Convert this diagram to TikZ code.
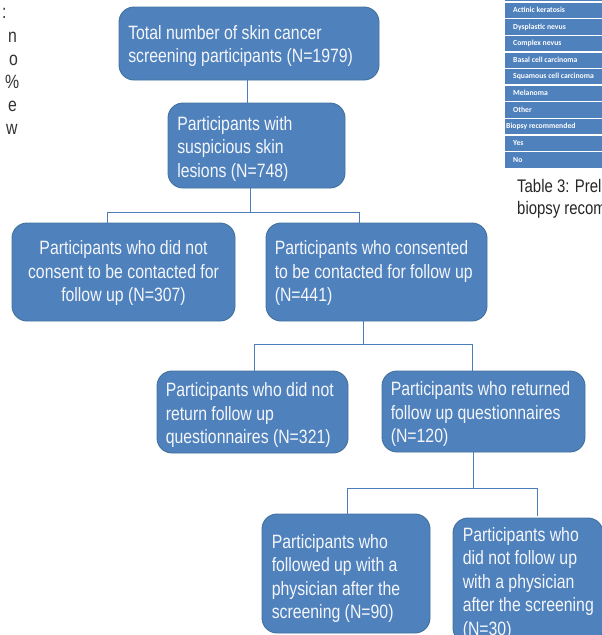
\documentclass[tikz,border=0pt]{standalone}
\usepackage{fontspec}
\setmainfont{Liberation Sans}
\newfontfamily\narrowfont[FakeStretch=0.82]{Liberation Sans}
\newfontfamily\tablefont{Carlito}
\definecolor{boxfill}{HTML}{4F81BD}
\definecolor{boxline}{HTML}{41719C}
\definecolor{connblue}{HTML}{4A7EBB}
\definecolor{textwhite}{HTML}{F4F6FA}
\definecolor{fraggray}{HTML}{333333}
\tikzset{
  box/.style={draw=boxline, line width=0.9pt, fill=boxfill, rounded corners=15pt, inner sep=0pt},
  txt/.style={inner sep=0pt, text=textwhite, font=\narrowfont\fontsize{19.3}{23.5}\selectfont, align=left, yshift=-2.5pt},
  conn/.style={draw=connblue, line width=1pt},
  frag/.style={inner sep=0pt, text=fraggray, font=\narrowfont\fontsize{19.3}{23.5}\selectfont, anchor=base west},
  captxt/.style={inner sep=0pt, text=black!85, font=\narrowfont\fontsize{18.2}{22}\selectfont, anchor=base west},
  tabtxt/.style={inner sep=0pt, text=white, font=\tablefont\bfseries\fontsize{7.7}{9}\selectfont, anchor=west},
  sep/.style={draw=white, line width=1.4pt}
}
\begin{document}
\begin{tikzpicture}[x=1pt,y=-1pt]
\useasboundingbox (0,0) rectangle (602,635);
\begin{scope}
\clip (0,0) rectangle (602,635);

% left clipped text fragments
\node[frag] (f1) at (2,18) {:};
\node[frag] (f2) at (8,42) {n};
\node[frag] (f3) at (9,65) {o};
\node[frag] (f4) at (5,88) {\%};
\node[frag] (f5) at (8,111) {e};
\node[frag] (f6) at (6,134) {w};

% table at top right
\fill[boxfill] (505,-5) rectangle (615,168);
\foreach \k in {0,...,9} {
  \draw[sep] (505,{2+16.6*\k}) -- (615,{2+16.6*\k});
}
\node[tabtxt] (r1) at (513,10.3) {Actinic keratosis};
\node[tabtxt] (r2) at (513,26.9) {Dysplastic nevus};
\node[tabtxt] (r3) at (513,43.5) {Complex nevus};
\node[tabtxt] (r4) at (513,60.1) {Basal cell carcinoma};
\node[tabtxt] (r5) at (513,76.7) {Squamous cell carcinoma};
\node[tabtxt] (r6) at (513,93.3) {Melanoma};
\node[tabtxt] (r7) at (513,109.9) {Other};
\node[tabtxt] (r8) at (506,126.5) {Biopsy recommended};
\node[tabtxt] (r9) at (513,143.1) {Yes};
\node[tabtxt] (r10) at (513,159.7) {No};
\node[captxt] (cap1) at (517,192) {Table 3: Prel};
\node[captxt] (cap2) at (517,214) {biopsy recom};

% boxes
\node[box, minimum width=260, minimum height=73] (b1) at (249,43.5) {};
\node[box, minimum width=177, minimum height=85] (b2) at (256.5,145.5) {};
\node[box, minimum width=223, minimum height=98] (b3) at (123.5,272) {};
\node[box, minimum width=221, minimum height=98] (b4) at (376.5,272) {};
\node[box, minimum width=191, minimum height=82] (b5) at (252.5,412) {};
\node[box, minimum width=203, minimum height=81] (b6) at (483.5,411.5) {};
\node[box, minimum width=168, minimum height=119] (b7) at (346,573.5) {};
\node[box, minimum width=150, minimum height=125] (b8) at (528,580.5) {};

% texts
\node[txt, anchor=west] (t1) at ([xshift=9.5pt]b1.west) {Total number of skin cancer\\screening participants (N=1979)};
\node[txt, anchor=west] (t2) at ([xshift=9.5pt,yshift=-1pt]b2.west) {Participants with\\suspicious skin\\lesions (N=748)};
\node[txt, align=center] (t3) at ([yshift=1pt]b3.center) {Participants who did not\\consent to be contacted for\\follow up (N=307)};
\node[txt, anchor=west] (t4) at ([xshift=9pt,yshift=1pt]b4.west) {Participants who consented\\to be contacted for follow up\\(N=441)};
\node[txt, anchor=west] (t5) at ([xshift=9pt,yshift=-1pt]b5.west) {Participants who did not\\return follow up\\questionnaires (N=321)};
\node[txt, anchor=west] (t6) at ([xshift=9pt]b6.west) {Participants who returned\\follow up questionnaires\\(N=120)};
\node[txt, anchor=west] (t7) at ([xshift=10pt,yshift=-2.5pt]b7.west) {Participants who\\followed up with a\\physician after the\\screening (N=90)};
\node[txt, anchor=west] (t8) at ([xshift=10pt]b8.west) {Participants who\\did not follow up\\with a physician\\after the screening\\(N=30)};

% connectors
\draw[conn] ([xshift=-2pt]b1.south) -- ([xshift=-9.5pt]b2.north);

\draw[conn] ([xshift=-6.5pt]b2.south) -- ++(0,24) coordinate (j1);
\draw[conn] (j1) -| ([xshift=-16.5pt]b3.north);
\draw[conn] (j1) -| ([xshift=-17.5pt]b4.north);

\draw[conn] ([xshift=-13.5pt]b4.south) -- ++(0,23) coordinate (j2);
\draw[conn] (j2) -| ([xshift=1.5pt]b5.north);
\draw[conn] (j2) -| ([xshift=-11.5pt]b6.north);

\draw[conn] ([xshift=-10.5pt]b6.south) -- ++(0,36) coordinate (j3);
\draw[conn] (j3) -| ([xshift=1pt]b7.north);
\draw[conn] (j3) -| ([xshift=9pt,yshift=2pt]b8.north);
\end{scope}
\end{tikzpicture}
\end{document}
